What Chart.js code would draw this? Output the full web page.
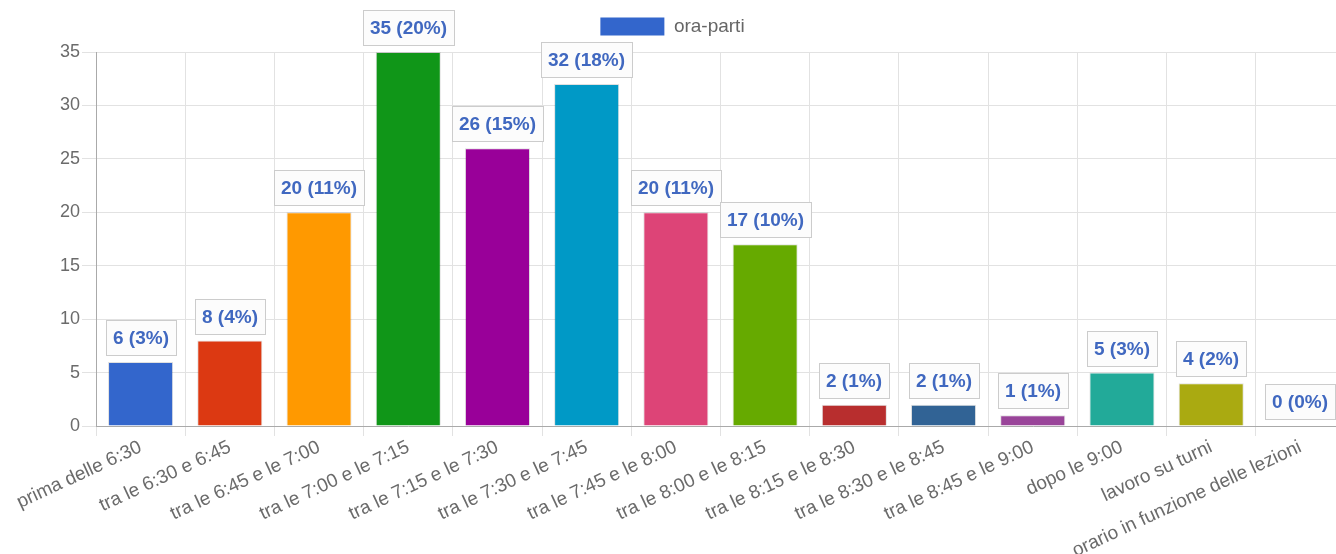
<!DOCTYPE html>
<html>
<head>
<meta charset="utf-8">
<script src="https://cdn.jsdelivr.net/npm/chart.js@4"></script>
<style>
  html, body { margin: 0; padding: 0; background: #fff; overflow: hidden; }
  #wrap { width: 1345px; height: 554px; }
</style>
</head>
<body>
<div id="wrap"><canvas id="chart" width="1345" height="554"></canvas></div>
<script>
// dati
const categories = [
    'prima delle 6:30',
    'tra le 6:30 e 6:45',
    'tra le 6:45 e le 7:00',
    'tra le 7:00 e le 7:15',
    'tra le 7:15 e le 7:30',
    'tra le 7:30 e le 7:45',
    'tra le 7:45 e le 8:00',
    'tra le 8:00 e le 8:15',
    'tra le 8:15 e le 8:30',
    'tra le 8:30 e le 8:45',
    'tra le 8:45 e le 9:00',
    'dopo le 9:00',
    'lavoro su turni',
    'orario in funzione delle lezioni'
];
const counts = [6, 8, 20, 35, 26, 32, 20, 17, 2, 2, 1, 5, 4, 0];
const percents = [3, 4, 11, 20, 15, 18, 11, 10, 1, 1, 1, 3, 2, 0];
const barColors = ['#3366cc', '#dc3912', '#ff9900', '#109618', '#990099', '#0099c6',
    '#dd4477', '#66aa00', '#b82e2e', '#316395', '#994499', '#22aa99', '#aaaa11', '#6633cc'];
const yTickValues = [0, 5, 10, 15, 20, 25, 30, 35];
const seriesName = 'ora-parti';

const FONT = '"Liberation Sans", Arial, sans-serif';

// etichette con riquadro sopra le barre
const boxLabels = {
    id: 'boxLabels',
    afterDatasetsDraw(chart) {
        const ctx = chart.ctx;
        const meta = chart.getDatasetMeta(0);
        ctx.save();
        ctx.font = 'bold 19px ' + FONT;
        meta.data.forEach((bar, i) => {
            const text = counts[i] + ' (' + percents[i] + '%)';
            const w = Math.round(ctx.measureText(text).width + 14);
            const h = 35;
            const x = Math.round(bar.x - w / 2);
            const y = Math.round(bar.y - 7 - h);
            ctx.fillStyle = '#fcfcfc';
            ctx.fillRect(x, y, w, h);
            ctx.strokeStyle = '#cccccc';
            ctx.lineWidth = 1;
            ctx.strokeRect(x + 0.5, y + 0.5, w, h);
            ctx.fillStyle = '#4068c0';
            ctx.textAlign = 'center';
            ctx.textBaseline = 'middle';
            ctx.fillText(text, x + w / 2, y + h / 2 + 1);
        });
        ctx.restore();
    }
};

// spazio extra sotto la legenda
const legendGap = {
    id: 'legendGap',
    beforeInit(chart) {
        const fit = chart.legend.fit;
        chart.legend.fit = function() {
            fit.call(this);
            this.height += 6;
        };
    }
};

new Chart(document.getElementById('chart'), {
    type: 'bar',
    data: {
        labels: categories,
        datasets: [{
            label: seriesName,
            data: counts,
            backgroundColor: barColors,
            borderColor: 'rgba(0,0,0,0.12)',
            borderWidth: 1,
            barPercentage: 0.73,
            categoryPercentage: 1
        }]
    },
    options: {
        responsive: false,
        animation: false,
        devicePixelRatio: 1,
        layout: { padding: 0 },
        plugins: {
            tooltip: { enabled: false },
            legend: {
                position: 'top',
                labels: {
                    boxWidth: 64,
                    boxHeight: 18,
                    padding: 17,
                    color: '#666',
                    font: { size: 19, family: FONT },
                    generateLabels: () => [{
                        text: seriesName,
                        fillStyle: barColors[0],
                        strokeStyle: barColors[0],
                        fontColor: '#666',
                        lineWidth: 0,
                        hidden: false,
                        datasetIndex: 0
                    }]
                }
            }
        },
        scales: {
            x: {
                grid: { color: '#e2e2e2', tickLength: 10, offset: true },
                border: { color: '#aaa' },
                ticks: {
                    autoSkip: false,
                    minRotation: 25,
                    maxRotation: 25,
                    padding: 0,
                    color: '#6b6b6b',
                    font: { size: 19, family: FONT }
                },
                afterFit: (s) => { s.height = 128; }
            },
            y: {
                min: yTickValues[0],
                max: yTickValues[yTickValues.length - 1],
                grid: { color: '#e2e2e2', tickLength: 14 },
                border: { color: '#aaa' },
                ticks: {
                    stepSize: yTickValues[1] - yTickValues[0],
                    padding: 2,
                    color: '#6b6b6b',
                    font: { size: 18, family: FONT }
                },
                afterFit: (s) => { s.width = 96; }
            }
        }
    },
    plugins: [boxLabels, legendGap]
});
</script>
</body>
</html>
